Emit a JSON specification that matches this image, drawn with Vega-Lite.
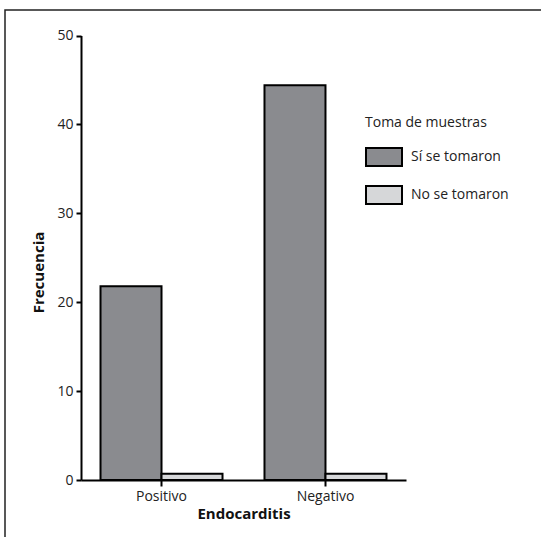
{
  "$schema": "https://vega.github.io/schema/vega-lite/v6.json",
  "width": 600,
  "height": 600,
  "autosize": "none",
  "padding": {"left": 5, "top": 10, "right": 0, "bottom": 0},
  "background": "white",
  "config": {
    "font": "Open Sans",
    "view": {"stroke": "#222222", "strokeWidth": 1.5, "fill": "white"}
  },
  "data": {
    "values": [
      {"Endocarditis": "Positivo", "Muestras": "Sí se tomaron", "Frecuencia": 21.8},
      {"Endocarditis": "Positivo", "Muestras": "No se tomaron", "Frecuencia": 0.7},
      {"Endocarditis": "Negativo", "Muestras": "Sí se tomaron", "Frecuencia": 44.4},
      {"Endocarditis": "Negativo", "Muestras": "No se tomaron", "Frecuencia": 0.7}
    ]
  },
  "mark": {"type": "bar", "stroke": "black", "strokeWidth": 2, "strokeJoin": "miter"},
  "encoding": {
    "x": {
      "field": "Endocarditis",
      "type": "nominal",
      "sort": ["Positivo", "Negativo"],
      "scale": {"range": [76, 401], "paddingInner": 0.256, "paddingOuter": 0.119},
      "axis": {
        "title": "Endocarditis",
        "orient": "bottom",
        "offset": -130,
        "labelAngle": 0,
        "labelFontSize": 14,
        "labelColor": "#222222",
        "labelPadding": 3,
        "titleFontSize": 15,
        "titleFontWeight": "bold",
        "titleColor": "#111111",
        "titlePadding": 3,
        "domainColor": "black",
        "domainWidth": 2,
        "tickColor": "black",
        "tickWidth": 2,
        "tickSize": 6,
        "grid": false
      }
    },
    "xOffset": {
      "field": "Muestras",
      "type": "nominal",
      "sort": ["Sí se tomaron", "No se tomaron"],
      "scale": {"paddingInner": 0, "paddingOuter": 0}
    },
    "y": {
      "field": "Frecuencia",
      "type": "quantitative",
      "scale": {"domain": [0, 50], "range": [470, 25.5], "nice": false},
      "axis": {
        "title": "Frecuencia",
        "orient": "left",
        "offset": -76,
        "values": [0, 10, 20, 30, 40, 50],
        "labelFontSize": 14,
        "labelColor": "#222222",
        "labelPadding": 3,
        "titleFontSize": 15,
        "titleFontWeight": "bold",
        "titleColor": "#111111",
        "titlePadding": 10,
        "titleY": 262,
        "domainColor": "black",
        "domainWidth": 2,
        "tickColor": "black",
        "tickWidth": 2,
        "tickSize": 5,
        "grid": false
      }
    },
    "fill": {
      "field": "Muestras",
      "type": "nominal",
      "sort": ["Sí se tomaron", "No se tomaron"],
      "scale": {"range": ["#8a8b8f", "#d6d7d9"]},
      "legend": {
        "title": "Toma de muestras",
        "orient": "none",
        "legendX": 360,
        "legendY": 106,
        "titleFontSize": 14,
        "titleFontWeight": "normal",
        "titleColor": "#222222",
        "titlePadding": 8,
        "labelFontSize": 14,
        "labelColor": "#222222",
        "labelOffset": 8,
        "symbolType": "M-1,-0.5H1V0.5H-1Z",
        "symbolSize": 1296,
        "symbolStrokeColor": "black",
        "symbolStrokeWidth": 2,
        "symbolOpacity": 1,
        "rowPadding": 6
      }
    }
  }
}
